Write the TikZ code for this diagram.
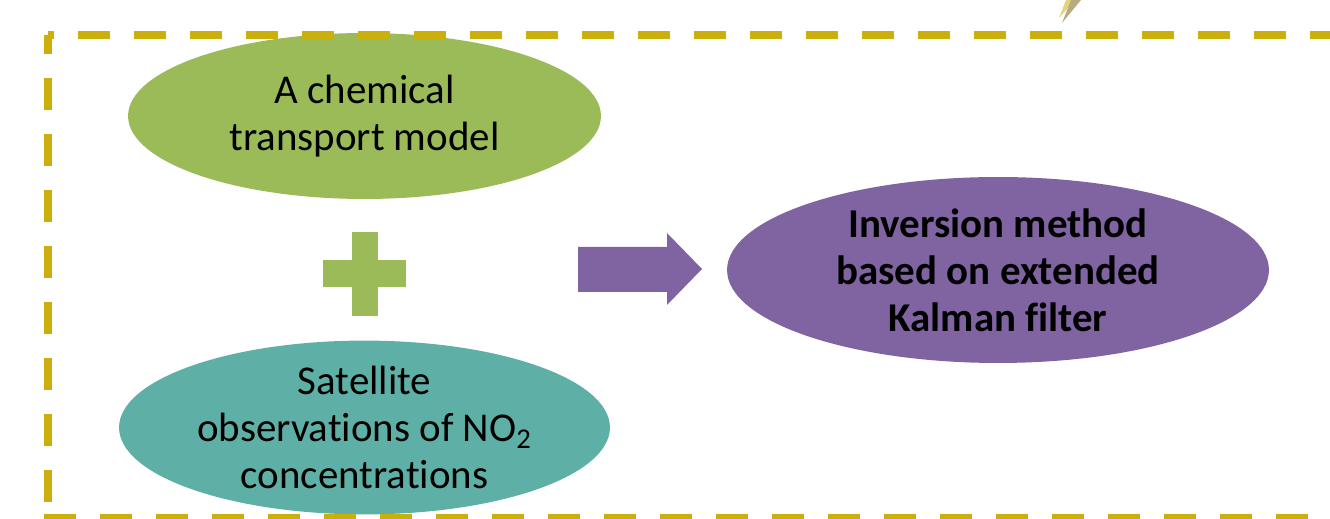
\documentclass[tikz,border=0pt]{standalone}
\usepackage{fontspec}
\setmainfont{Carlito}[Ligatures=NoCommon]
\usepackage{tikz}
\usetikzlibrary{shapes.geometric}
\definecolor{cgreen}{HTML}{9BBB59}
\definecolor{cteal}{HTML}{5EB0A6}
\definecolor{cpurple}{HTML}{8064A2}
\definecolor{cgold}{HTML}{CBB00C}
\definecolor{clight}{HTML}{E6D27A}
\definecolor{cgrey}{HTML}{B5AC82}
\tikzset{
    blob/.style={ellipse,inner sep=0pt,align=center,text=black,
        font=\fontsize{23.3}{26.8}\selectfont},
    gblob/.style={blob,fill=cgreen,minimum width=9.46cm,minimum height=3.32cm},
    tblob/.style={blob,fill=cteal,minimum width=9.82cm,minimum height=3.18cm},
    pblob/.style={blob,fill=cpurple,minimum width=10.84cm,minimum height=3.72cm,
        font=\fontsize{23.3}{26.8}\selectfont\bfseries},
    frame/.style={draw=cgold,line width=0.17cm,dash pattern=on 0.64cm off 0.48cm},
}

\begin{document}
\begin{tikzpicture}[x=0.02cm,y=-0.02cm]
    \useasboundingbox (0,0) rectangle (1330,519);
    \begin{scope}
    \clip (0,0) rectangle (1330,519);
    % lightning tip at the top
    \fill[clight] (1059,18) -- (1066,0) -- (1075,0) -- cycle;
    \fill[cgrey] (1062,23) -- (1071,0) -- (1081,0) -- cycle;
    % the three blobs
    \node[gblob] (ctm) at (364.5,116) {A chemical\\transport model};
    \node[tblob] (sat) at (364.5,427.5) {Satellite\\observations of NO\textsubscript{2}\\concentrations};
    \node[pblob] (inv) at (998,270) {Inversion method\\based on extended\\Kalman filter};
    % plus
    \fill[cgreen] (323,260) rectangle (406,287);
    \fill[cgreen] (352,232) rectangle (378,316);
    % block arrow
    \fill[cpurple] (578,247) -- (667,247) -- (667,233) -- (702,269)
        -- (667,305) -- (667,292) -- (578,292) -- cycle;
    % dashed frame
    \draw[frame,dash phase=0.52cm] (48,35) -- (1340,35);
    \draw[frame,dash phase=0.26cm] (48,35) -- (48,518);
    \draw[frame] (44,518) -- (1340,518);
    \end{scope}
\end{tikzpicture}
\end{document}
